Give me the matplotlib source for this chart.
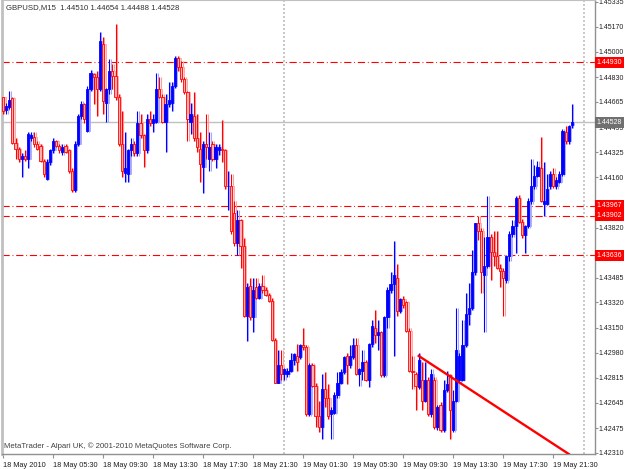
import matplotlib
matplotlib.use("Agg")
import matplotlib.pyplot as plt
import matplotlib.transforms as mtransforms

plt.rcParams['font.family'] = ['Liberation Sans', 'DejaVu Sans']

# GBPUSD M15 candles, 18 May 2010 01:30 -> 19 May 2010
opens = [1.4470, 1.4461, 1.4463, 1.4469, 1.4439, 1.4435, 1.4428, 1.4430, 1.4428, 1.4442,
         1.4443, 1.4438, 1.4437, 1.4427, 1.4415, 1.4426, 1.4434, 1.4440, 1.4437, 1.4433,
         1.4437, 1.4434, 1.4420, 1.4407, 1.4438, 1.4457, 1.4465, 1.4447, 1.4475, 1.4485,
         1.4483, 1.4475, 1.4505, 1.4466, 1.4475, 1.4487, 1.4484, 1.4470, 1.4438, 1.4419,
         1.4418, 1.4434, 1.4438, 1.4432, 1.4452, 1.4444, 1.4434, 1.4455, 1.4452, 1.4453,
         1.4475, 1.4470, 1.4453, 1.4465, 1.4466, 1.4477, 1.4496, 1.4490, 1.4482, 1.4473,
         1.4453, 1.4457, 1.4442, 1.4435, 1.4423, 1.4438, 1.4428, 1.4438, 1.4428, 1.4434,
         1.4435, 1.4434, 1.4410, 1.4410, 1.4392, 1.4372, 1.4387, 1.4370, 1.4323, 1.4343,
         1.4322, 1.4342, 1.4335, 1.4343, 1.4340, 1.4337, 1.4333, 1.4307, 1.4278, 1.4290,
         1.4284, 1.4284, 1.4286, 1.4293, 1.4296, 1.4295, 1.4303, 1.4302, 1.4257, 1.4290,
         1.4276, 1.4256, 1.4248, 1.4274, 1.4268, 1.4257, 1.4258, 1.4270, 1.4278, 1.4285,
         1.4296, 1.4290, 1.4295, 1.4303, 1.4284, 1.4286, 1.4292, 1.4280, 1.4304, 1.4315,
         1.4310, 1.4312, 1.4283, 1.4322, 1.4340, 1.4344, 1.4348, 1.4326, 1.4334, 1.4332,
         1.4313, 1.4286, 1.4284, 1.4275, 1.4280, 1.4266, 1.4280, 1.4257, 1.4280, 1.4248,
         1.4263, 1.4246, 1.4273, 1.4283, 1.4246, 1.4266, 1.4280, 1.4280, 1.4303, 1.4324,
         1.4328, 1.4352, 1.4385, 1.4380, 1.4350, 1.4356, 1.4376, 1.4366, 1.4363, 1.4355,
         1.4353, 1.4347, 1.4363, 1.4378, 1.4383, 1.4402, 1.4386, 1.4377, 1.4383, 1.4400,
         1.4410, 1.4417, 1.4422, 1.4398, 1.4398, 1.4410, 1.4418, 1.4410, 1.4413, 1.4418,
         1.4446, 1.4440, 1.4451]
highs = [1.4470, 1.4466, 1.4474, 1.4470, 1.4442, 1.4436, 1.4432, 1.4434, 1.4446, 1.4446,
         1.4446, 1.4440, 1.4438, 1.4428, 1.4428, 1.4435, 1.4442, 1.4441, 1.4438, 1.4438,
         1.4438, 1.4435, 1.4422, 1.4440, 1.4458, 1.4467, 1.4466, 1.4477, 1.4488, 1.4486,
         1.4487, 1.4513, 1.4510, 1.4476, 1.4495, 1.4492, 1.4519, 1.4472, 1.4460, 1.4446,
         1.4435, 1.4442, 1.4440, 1.4460, 1.4458, 1.4445, 1.4458, 1.4460, 1.4458, 1.4486,
         1.4483, 1.4472, 1.4472, 1.4480, 1.4480, 1.4497, 1.4497, 1.4494, 1.4483, 1.4474,
         1.4466, 1.4473, 1.4458, 1.4446, 1.4440, 1.4458, 1.4446, 1.4440, 1.4438, 1.4438,
         1.4454, 1.4435, 1.4420, 1.4418, 1.4400, 1.4394, 1.4388, 1.4375, 1.4345, 1.4348,
         1.4348, 1.4348, 1.4345, 1.4350, 1.4342, 1.4338, 1.4335, 1.4308, 1.4300, 1.4300,
         1.4288, 1.4288, 1.4298, 1.4298, 1.4304, 1.4304, 1.4315, 1.4303, 1.4291, 1.4291,
         1.4278, 1.4266, 1.4284, 1.4285, 1.4277, 1.4262, 1.4272, 1.4285, 1.4287, 1.4296,
         1.4298, 1.4303, 1.4308, 1.4308, 1.4288, 1.4300, 1.4293, 1.4305, 1.4320, 1.4327,
         1.4320, 1.4313, 1.4323, 1.4342, 1.4352, 1.4373, 1.4358, 1.4335, 1.4336, 1.4333,
         1.4315, 1.4296, 1.4285, 1.4298, 1.4292, 1.4292, 1.4282, 1.4287, 1.4282, 1.4263,
         1.4265, 1.4280, 1.4286, 1.4284, 1.4273, 1.4328, 1.4298, 1.4320, 1.4338, 1.4345,
         1.4367, 1.4385, 1.4390, 1.4382, 1.4376, 1.4403, 1.4378, 1.4380, 1.4380, 1.4358,
         1.4355, 1.4364, 1.4380, 1.4387, 1.4403, 1.4404, 1.4388, 1.4384, 1.4402, 1.4428,
         1.4424, 1.4427, 1.4443, 1.4426, 1.4418, 1.4420, 1.4422, 1.4416, 1.4420, 1.4448,
         1.4450, 1.4451, 1.4465]
lows = [1.4458, 1.4458, 1.4462, 1.4438, 1.4428, 1.4426, 1.4416, 1.4427, 1.4422, 1.4440,
        1.4436, 1.4434, 1.4426, 1.4416, 1.4414, 1.4424, 1.4432, 1.4436, 1.4432, 1.4431,
        1.4432, 1.4419, 1.4406, 1.4406, 1.4437, 1.4455, 1.4452, 1.4446, 1.4474, 1.4465,
        1.4457, 1.4474, 1.4458, 1.4453, 1.4472, 1.4475, 1.4468, 1.4437, 1.4416, 1.4413,
        1.4413, 1.4430, 1.4430, 1.4430, 1.4442, 1.4423, 1.4432, 1.4450, 1.4446, 1.4452,
        1.4469, 1.4452, 1.4433, 1.4463, 1.4460, 1.4476, 1.4487, 1.4480, 1.4472, 1.4440,
        1.4445, 1.4440, 1.4433, 1.4413, 1.4405, 1.4428, 1.4420, 1.4427, 1.4422, 1.4431,
        1.4426, 1.4408, 1.4394, 1.4378, 1.4370, 1.4364, 1.4355, 1.4322, 1.4306, 1.4320,
        1.4312, 1.4334, 1.4334, 1.4338, 1.4336, 1.4332, 1.4306, 1.4278, 1.4278, 1.4280,
        1.4280, 1.4282, 1.4285, 1.4290, 1.4286, 1.4294, 1.4300, 1.4256, 1.4256, 1.4275,
        1.4248, 1.4245, 1.4240, 1.4262, 1.4254, 1.4240, 1.4257, 1.4268, 1.4277, 1.4284,
        1.4277, 1.4288, 1.4294, 1.4283, 1.4276, 1.4280, 1.4279, 1.4275, 1.4302, 1.4305,
        1.4300, 1.4282, 1.4282, 1.4315, 1.4338, 1.4296, 1.4323, 1.4325, 1.4328, 1.4312,
        1.4285, 1.4274, 1.4260, 1.4274, 1.4260, 1.4265, 1.4256, 1.4255, 1.4247, 1.4246,
        1.4245, 1.4245, 1.4272, 1.4240, 1.4245, 1.4265, 1.4278, 1.4279, 1.4302, 1.4317,
        1.4327, 1.4350, 1.4374, 1.4338, 1.4312, 1.4355, 1.4347, 1.4356, 1.4354, 1.4342,
        1.4323, 1.4345, 1.4360, 1.4376, 1.4365, 1.4385, 1.4375, 1.4365, 1.4382, 1.4398,
        1.4408, 1.4416, 1.4399, 1.4390, 1.4397, 1.4408, 1.4409, 1.4408, 1.4412, 1.4417,
        1.4438, 1.4438, 1.4449]
closes = [1.4460, 1.4464, 1.4468, 1.4439, 1.4435, 1.4428, 1.4430, 1.4428, 1.4445, 1.4444,
          1.4438, 1.4435, 1.4427, 1.4418, 1.4426, 1.4434, 1.4440, 1.4437, 1.4434, 1.4436,
          1.4433, 1.4420, 1.4407, 1.4438, 1.4457, 1.4465, 1.4455, 1.4475, 1.4486, 1.4483,
          1.4475, 1.4507, 1.4467, 1.4475, 1.4487, 1.4484, 1.4470, 1.4438, 1.4420, 1.4422,
          1.4434, 1.4438, 1.4432, 1.4452, 1.4444, 1.4434, 1.4455, 1.4452, 1.4455, 1.4475,
          1.4470, 1.4453, 1.4465, 1.4468, 1.4477, 1.4496, 1.4490, 1.4482, 1.4473, 1.4455,
          1.4458, 1.4442, 1.4436, 1.4425, 1.4438, 1.4436, 1.4436, 1.4428, 1.4436, 1.4436,
          1.4434, 1.4410, 1.4410, 1.4380, 1.4372, 1.4387, 1.4370, 1.4323, 1.4342, 1.4322,
          1.4340, 1.4335, 1.4343, 1.4340, 1.4337, 1.4333, 1.4307, 1.4278, 1.4290, 1.4284,
          1.4287, 1.4286, 1.4293, 1.4297, 1.4292, 1.4303, 1.4302, 1.4257, 1.4290, 1.4276,
          1.4256, 1.4248, 1.4274, 1.4268, 1.4256, 1.4260, 1.4270, 1.4278, 1.4285, 1.4295,
          1.4290, 1.4296, 1.4303, 1.4284, 1.4287, 1.4292, 1.4280, 1.4304, 1.4316, 1.4310,
          1.4312, 1.4283, 1.4322, 1.4340, 1.4344, 1.4350, 1.4326, 1.4334, 1.4330, 1.4313,
          1.4286, 1.4285, 1.4276, 1.4293, 1.4266, 1.4280, 1.4257, 1.4284, 1.4248, 1.4262,
          1.4246, 1.4273, 1.4277, 1.4260, 1.4266, 1.4300, 1.4296, 1.4303, 1.4324, 1.4328,
          1.4352, 1.4385, 1.4380, 1.4352, 1.4356, 1.4376, 1.4366, 1.4363, 1.4355, 1.4353,
          1.4348, 1.4363, 1.4378, 1.4383, 1.4402, 1.4386, 1.4377, 1.4383, 1.4400, 1.4410,
          1.4417, 1.4423, 1.4400, 1.4400, 1.4408, 1.4418, 1.4410, 1.4414, 1.4418, 1.4447,
          1.4440, 1.4450, 1.4453]

price_ticks = [1.45335, 1.45170, 1.45000, 1.44830, 1.44665, 1.44495, 1.44325, 1.44160,
               1.43990, 1.43820, 1.43655, 1.43485, 1.43320, 1.43150, 1.42980, 1.42815,
               1.42645, 1.42475, 1.42310]
# these scale labels sit under the coloured level boxes, so they are not printed
hidden_ticks = [1.43990, 1.43655]
time_tick_bars = [0, 16, 32, 48, 64, 80, 96, 112, 128, 144, 160, 176]
time_tick_labels = ['18 May 2010', '18 May 05:30', '18 May 09:30', '18 May 13:30',
                    '18 May 17:30', '18 May 21:30', '19 May 01:30', '19 May 05:30',
                    '19 May 09:30', '19 May 13:30', '19 May 17:30', '19 May 21:30']
level_lines = [1.44930, 1.43967, 1.43902, 1.43636]
bid_price = 1.44528
separator_bars = [90, 186]
trend_bars = [133, 181]
trend_prices = [1.42960, 1.42302]

fs = 5.0

fig = plt.figure(figsize=(6.25, 4.69), dpi=100)
ax = fig.add_axes([2 / 625, 1 - 454 / 469, 593 / 625, 454 / 469])
ax.set_xlim(-0.32, 189.4)
ax.set_ylim(1.42302, 1.45348)


def draw_candles(shift, up_col, up_face, dn_col, dn_face, z):
    for i in range(len(opens)):
        o, h, l, c = opens[i], highs[i], lows[i], closes[i]
        if c >= o:
            col, face = up_col, up_face
        else:
            col, face = dn_col, dn_face
        ax.vlines(i + shift, l, h, color=col, linewidth=0.8, zorder=z)
        body = max(abs(c - o), 0.00003)
        ax.bar(i + shift, body, bottom=min(o, c), width=0.7, color=face, edgecolor=col,
               linewidth=0.6, zorder=z + 0.5)


# faint overlay copy, then the main candles
draw_candles(0.45, '#a8a8ff', '#a8a8ff', '#ffa0a0', '#ffd0d0', 2.5)
draw_candles(0.0, '#0000ff', '#0000ff', '#ff0000', '#ffb0b0', 3)

# horizontal levels
for lv in level_lines:
    ax.axhline(lv, color='#ff0000', linewidth=0.8, dashes=(6.5, 2.5, 0.8, 2.5), zorder=2)
ax.axhline(bid_price, color='#c0c0c0', linewidth=1.0, zorder=2)

for sb in separator_bars:
    ax.axvline(sb, color='#c0c0c0', linewidth=1.2, linestyle=(0, (1.2, 1.2)), zorder=1)

ax.plot(trend_bars, trend_prices, color='#ff0000', linewidth=1.7, zorder=5)

# axes look
for side in ['left', 'top']:
    ax.spines[side].set_color('#c0c0c0')
ax.spines['left'].set_linewidth(2)
for side in ['right', 'bottom']:
    ax.spines[side].set_color('#909090')
    ax.spines[side].set_linewidth(1)

ax.yaxis.tick_right()
ax.set_yticks(price_ticks)
ax.set_yticklabels(['' if p in hidden_ticks else '%.5f' % p for p in price_ticks])
ax.set_xticks(time_tick_bars)
ax.set_xticklabels(time_tick_labels, ha='left')
ax.tick_params(axis='y', length=2.2, width=0.8, color='#909090', labelsize=fs,
               labelcolor='#202020', pad=0.6)
ax.tick_params(axis='x', length=3, width=0.8, color='#909090', labelsize=5.3,
               labelcolor='#202020', pad=3)

# price labels on the scale
blend = mtransforms.blended_transform_factory(ax.transAxes, ax.transData)
for lv in level_lines:
    ax.text(1.003, lv, '%.5f' % lv, transform=blend, ha='left', va='center',
            fontsize=fs, color='white', clip_on=False, zorder=10,
            bbox=dict(boxstyle='square,pad=0.3', fc='#ff0000', ec='none'))
ax.text(1.003, bid_price, '%.5f' % bid_price, transform=blend, ha='left', va='center',
        fontsize=fs, color='white', clip_on=False, zorder=10,
        bbox=dict(boxstyle='square,pad=0.3', fc='#707070', ec='none'))

ax.text(0.006, 0.992, 'GBPUSD,M15  1.44510 1.44654 1.44488 1.44528', transform=ax.transAxes,
        ha='left', va='top', fontsize=5.6, color='#303030')
ax.text(0.003, 0.008, 'MetaTrader - Alpari UK, \u00a9 2001-2010 MetaQuotes Software Corp.',
        transform=ax.transAxes, ha='left', va='bottom', fontsize=5.6, color='#404040')

fig.savefig('out.png', dpi=100, facecolor='white')
